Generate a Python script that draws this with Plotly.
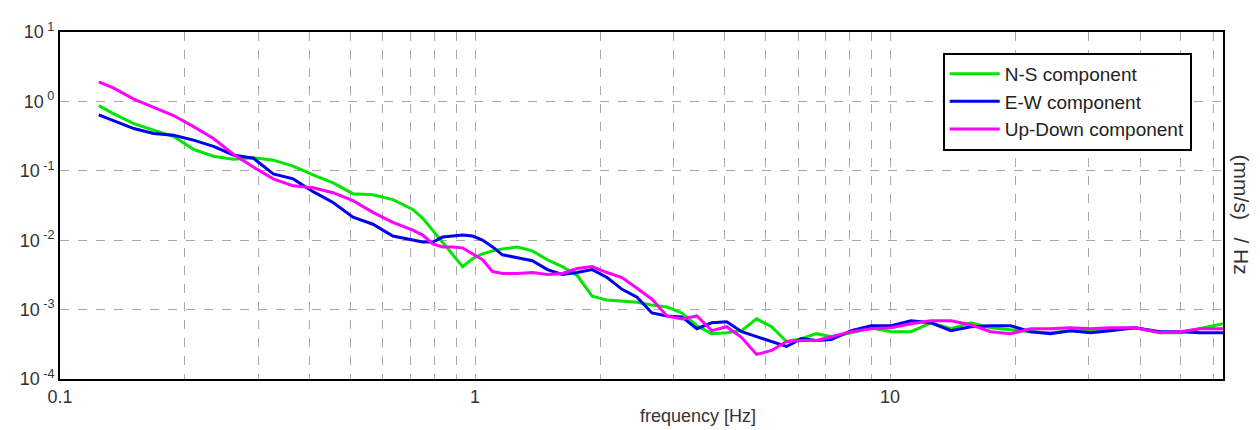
import plotly.graph_objects as go

# Frequency [Hz]
freq = [0.124, 0.1348, 0.1506, 0.1681, 0.1878, 0.2098, 0.2343, 0.2617, 0.2922, 0.3265,
        0.3646, 0.4073, 0.4549, 0.5081, 0.5675, 0.6338, 0.7079, 0.7481, 0.7907, 0.8356,
        0.8832, 0.9333, 0.9863, 1.042, 1.102, 1.164, 1.265, 1.374, 1.494, 1.622,
        1.762, 1.915, 2.080, 2.260, 2.456, 2.668, 2.899, 3.150, 3.422, 3.718,
        4.040, 4.389, 4.768, 5.181, 5.628, 6.115, 6.644, 7.218, 8.061, 9.001,
        10.06, 11.23, 12.54, 14.01, 15.65, 17.48, 19.52, 21.80, 24.35, 27.20,
        30.38, 33.93, 38.96, 44.74, 49.97, 55.81, 63.37]

ns_component = [0.869, 0.662, 0.478, 0.384, 0.312, 0.204, 0.162, 0.147, 0.1545, 0.1423,
                0.117, 0.0872, 0.0671, 0.0468, 0.0453, 0.0385, 0.0277, 0.0207, 0.01396, 0.00912,
                0.00616, 0.00416, 0.00541, 0.00637, 0.00702, 0.00750, 0.00800, 0.00702, 0.00523, 0.00416,
                0.00310, 0.00156, 0.00137, 0.00133, 0.00128, 0.00116, 0.00109, 0.000895, 0.000585, 0.000450,
                0.000465, 0.000497, 0.000735, 0.000566, 0.000347, 0.000382, 0.000450, 0.000408, 0.000465, 0.000548,
                0.000481, 0.000481, 0.000645, 0.000530, 0.000645, 0.000548, 0.000513, 0.000481, 0.000465, 0.000497,
                0.000497, 0.000530, 0.000548, 0.000465, 0.000465, 0.000530, 0.000625]

ew_component = [0.641, 0.532, 0.406, 0.344, 0.326, 0.277, 0.225, 0.169, 0.152, 0.0901,
                0.0765, 0.0500, 0.0349, 0.0214, 0.0170, 0.01147, 0.01006, 0.00943, 0.00943, 0.01110,
                0.01147, 0.01186, 0.01147, 0.01006, 0.00800, 0.00616, 0.00559, 0.00506, 0.00377, 0.00320,
                0.00342, 0.00377, 0.00290, 0.00196, 0.00151, 0.000895, 0.000811, 0.000785, 0.000530, 0.000645,
                0.000667, 0.000481, 0.000408, 0.000347, 0.000294, 0.000382, 0.000358, 0.000370, 0.000497, 0.000585,
                0.000585, 0.000689, 0.000645, 0.000497, 0.000566, 0.000585, 0.000585, 0.000481, 0.000450, 0.000497,
                0.000465, 0.000497, 0.000548, 0.000481, 0.000481, 0.000465, 0.000465]

ud_component = [1.905, 1.550, 1.082, 0.833, 0.626, 0.433, 0.292, 0.173, 0.1132, 0.0765,
                0.0608, 0.0570, 0.0484, 0.0372, 0.0252, 0.0181, 0.01396, 0.01186, 0.00883, 0.00800,
                0.00800, 0.00775, 0.00637, 0.00523, 0.00353, 0.00331, 0.00331, 0.00342, 0.00320, 0.00331,
                0.00390, 0.00416, 0.00342, 0.00290, 0.00203, 0.00141, 0.000811, 0.000735, 0.000811, 0.000497,
                0.000566, 0.000395, 0.000226, 0.000258, 0.000347, 0.000358, 0.000358, 0.000408, 0.000481, 0.000530,
                0.000548, 0.000625, 0.000689, 0.000689, 0.000604, 0.000481, 0.000450, 0.000530, 0.000530, 0.000548,
                0.000530, 0.000548, 0.000548, 0.000465, 0.000481, 0.000530, 0.000530]

series_names = ["N-S component", "E-W component", "Up-Down component"]
series_colors = ["#00E600", "#0000EE", "#FF00FF"]

x_tick_vals = [0.1, 0.2, 0.3, 0.4, 0.5, 0.6, 0.7, 0.8, 0.9,
               1, 2, 3, 4, 5, 6, 7, 8, 9,
               10, 20, 30, 40, 50, 60]
x_tick_text = ["0.1", "", "", "", "", "", "", "", "",
               "1", "", "", "", "", "", "", "", "",
               "10", "", "", "", "", ""]
y_tick_vals = [1e-4, 1e-3, 1e-2, 1e-1, 1e0, 1e1]
y_tick_text = ["10<sup> -4</sup>", "10<sup> -3</sup>", "10<sup> -2</sup>",
               "10<sup> -1</sup>", "10<sup> 0</sup>", "10<sup> 1</sup>"]

X_LOG_RANGE = [-1, 1.802]
Y_LOG_RANGE = [-4, 1]

FONT = "Liberation Sans, Arial, sans-serif"

fig = go.Figure()
for name, color, vals in zip(series_names, series_colors,
                             [ns_component, ew_component, ud_component]):
    fig.add_trace(go.Scatter(x=freq, y=vals, mode="lines", name=name,
                             line=dict(color=color, width=3)))

axis_common = dict(showgrid=True, gridcolor="#a8a8a8", gridwidth=1, griddash="dash",
                   showline=True, linecolor="black", linewidth=2, mirror=True,
                   ticks="", zeroline=False,
                   tickfont=dict(family=FONT, size=18, color="#333333"))

fig.update_xaxes(type="log", range=X_LOG_RANGE, tickmode="array",
                 tickvals=x_tick_vals, ticktext=x_tick_text, **axis_common)
fig.update_yaxes(type="log", range=Y_LOG_RANGE, tickmode="array",
                 tickvals=y_tick_vals, ticktext=y_tick_text, **axis_common)

fig.add_annotation(text="frequency [Hz]", xref="paper", yref="paper",
                   x=0.549, y=-0.108, xanchor="center", yanchor="middle",
                   showarrow=False,
                   font=dict(family=FONT, size=18, color="#333333"))
fig.add_annotation(text="(mm/s)\u00a0\u00a0\u00a0/\u00a0Hz", xref="paper", yref="paper",
                   x=1.0163, y=0.474, xanchor="center", yanchor="middle",
                   showarrow=False, textangle=90,
                   font=dict(family=FONT, size=21, color="#333333"))

# page body adds an 8px offset; size the figure so the plot area lands at 56..1223 x 27..379
fig.update_layout(
    width=1252, height=422,
    margin=dict(l=48, r=37, t=19, b=51),
    paper_bgcolor="white", plot_bgcolor="white",
    font=dict(family=FONT, size=18, color="#222222"),
    legend=dict(x=0.759, y=0.94, xanchor="left", yanchor="top",
                bgcolor="white", bordercolor="black", borderwidth=2,
                font=dict(family=FONT, size=19, color="#222222"),
                itemwidth=50),
    showlegend=True,
)

fig.write_html("out.html")
